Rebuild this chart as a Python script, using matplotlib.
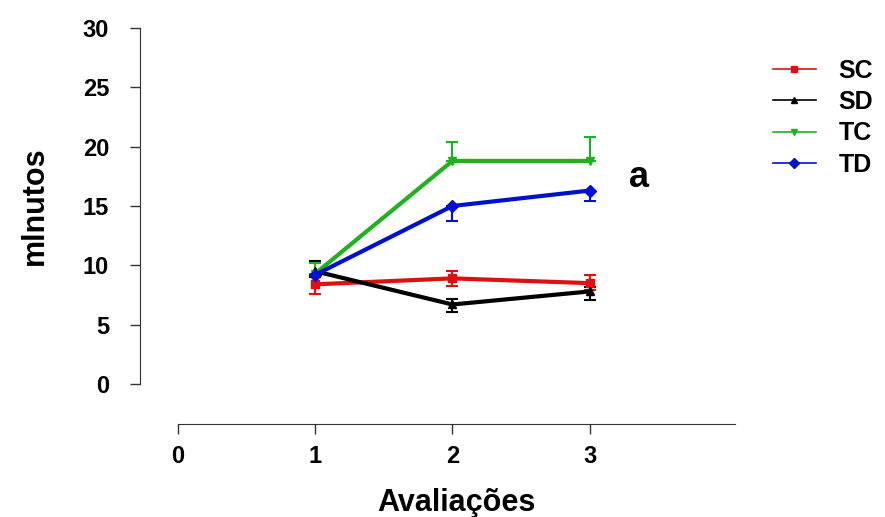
import matplotlib.pyplot as plt

# --- data ---
avaliacoes = [1, 2, 3]
series = ['SC', 'SD', 'TC', 'TD']
sc = [8.4, 8.9, 8.5]
sd = [9.5, 6.7, 7.8]
tc = [9.3, 18.8, 18.8]
td = [9.2, 15.0, 16.3]
sc_err = [[0.8, 0.6, 0.6], [0.6, 0.6, 0.7]]
sd_err = [[0.5, 0.6, 0.7], [0.9, 0.5, 0.4]]
tc_err = [[0.0, 0.0, 0.0], [0.9, 1.6, 2.0]]
td_err = [[0.0, 1.3, 0.9], [0.0, 0.0, 0.0]]

colors = ['#e01010', '#000000', '#20b020', '#0010d0']
markers = ['s', '^', 'v', 'D']
values = [sc, sd, tc, td]
errors = [sc_err, sd_err, tc_err, td_err]

plt.rcParams['font.family'] = ['Liberation Sans', 'DejaVu Sans']

fig = plt.figure(figsize=(8.85, 5.17), dpi=100)
ax = fig.add_axes([178 / 885, (517 - 384) / 517, (735 - 178) / 885, (384 - 28) / 517])

for name, y, err, c, m in zip(series, values, errors, colors, markers):
    ax.errorbar(avaliacoes, y, yerr=err, color=c, lw=0, elinewidth=1.5,
                capsize=4, capthick=1.5, zorder=2)
    ax.plot(avaliacoes, y, color=c, lw=3, marker=m, markersize=6, zorder=3)

ax.set_xlim(0, 4.06)
ax.set_ylim(0, 30)
ax.set_xticks([0, 1, 2, 3])
ax.set_yticks([0, 5, 10, 15, 20, 25, 30])

for s in ['top', 'right']:
    ax.spines[s].set_visible(False)
ax.spines['left'].set_position(('outward', 27.4))
ax.spines['bottom'].set_position(('outward', 28.8))
ax.spines['left'].set_color('#333333')
ax.spines['bottom'].set_color('#333333')
ax.tick_params(axis='both', direction='out', length=7.2, width=1, color='#333333',
               labelsize=17)
ax.tick_params(axis='y', pad=15)
ax.tick_params(axis='x', pad=8)
for lab in ax.get_xticklabels() + ax.get_yticklabels():
    lab.set_fontweight('bold')

ax.set_ylabel('mlnutos', fontsize=22, fontweight='heavy', labelpad=24)
ax.set_xlabel('Avaliações', fontsize=22, fontweight='heavy', labelpad=14)

ax.text(3.29, 17.4, 'a', fontsize=26, fontweight='bold', va='center', ha='left')

leg_handles = []
for c, m, name in zip(colors, markers, series):
    h, = ax.plot([], [], color=c, lw=1.2, marker=m, markersize=5, label=name)
    leg_handles.append(h)
leg = fig.legend(handles=leg_handles, loc='upper left',
                 bbox_to_anchor=(750 / 885, 1 - 36 / 517),
                 frameon=False, fontsize=18, handlelength=1.75, labelspacing=0.3,
                 handletextpad=0.9)
for t in leg.get_texts():
    t.set_fontweight('bold')

fig.savefig('out.png', dpi=100, facecolor='white')
